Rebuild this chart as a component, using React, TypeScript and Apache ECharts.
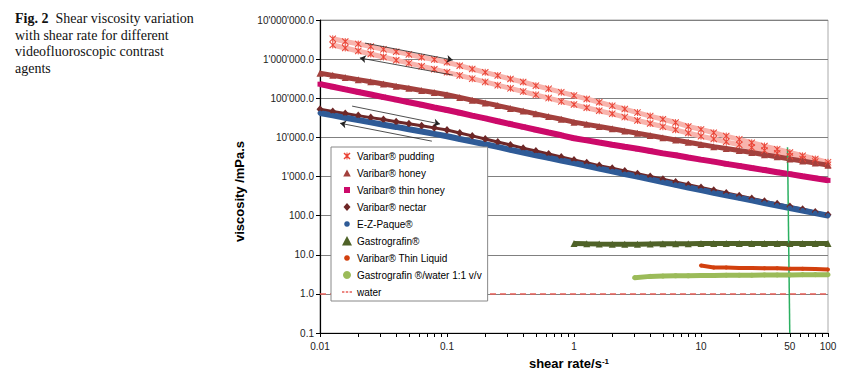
import React, { useEffect, useRef } from 'react';
import * as echarts from 'echarts';

// shear-rate sweep (1/s), 10 points per decade
const rateSweep = [0.01, 0.0126, 0.0158, 0.02, 0.0251, 0.0316, 0.0398, 0.0501, 0.0631, 0.0794, 0.1, 0.126, 0.158, 0.2, 0.251, 0.316, 0.398, 0.501, 0.631, 0.794, 1, 1.26, 1.58, 2, 2.51, 3.16, 3.98, 5.01, 6.31, 7.94, 10, 12.6, 15.8, 20, 25.1, 31.6, 39.8, 50.1, 63.1, 79.4, 100];
const puddingRate = [0.0126, 0.0158, 0.02, 0.0251, 0.0316, 0.0398, 0.0501, 0.0631, 0.0794, 0.1, 0.126, 0.158, 0.2, 0.251, 0.316, 0.398, 0.501, 0.631, 0.794, 1, 1.26, 1.58, 2, 2.51, 3.16, 3.98, 5.01, 6.31, 7.94, 10, 12.6, 15.8, 20, 25.1, 31.6, 39.8, 50.1, 63.1, 79.4, 100];

// viscosities (mPa.s)
const puddingUp = [3310000, 2820000, 2450000, 2090000, 1780000, 1550000, 1320000, 1120000, 980000, 830000, 680000, 560000, 460000, 380000, 310000, 260000, 210000, 174000, 143000, 117000, 96000, 79000, 64000, 53000, 43000, 35000, 29000, 24000, 19000, 16000, 13100, 10800, 8900, 7300, 6000, 5000, 4100, 3400, 2800, 2300];
const puddingDown = [2290000, 1920000, 1610000, 1350000, 1130000, 940000, 790000, 660000, 550000, 460000, 384000, 317000, 262000, 216000, 179000, 148000, 122000, 101000, 83000, 69000, 57000, 48000, 40000, 33000, 27000, 22600, 18800, 15600, 12900, 10700, 9100, 7700, 6500, 5500, 4600, 3900, 3300, 2800, 2400, 2000];
const honey = [437000, 385000, 339000, 299000, 263000, 232000, 204000, 180000, 158000, 140000, 123000, 105000, 89000, 76000, 65000, 55000, 47000, 40000, 34000, 29000, 24500, 21500, 18900, 16600, 14500, 12700, 11200, 9800, 8600, 7500, 6600, 5800, 5200, 4600, 4100, 3600, 3200, 2800, 2500, 2200, 1950];
const thinHoney = [229000, 197000, 169000, 145000, 125000, 107000, 92000, 79000, 68000, 58000, 50000, 42500, 36000, 30500, 25800, 21900, 18500, 15700, 13300, 11300, 9500, 8400, 7400, 6500, 5750, 5100, 4500, 3900, 3500, 3050, 2700, 2400, 2100, 1870, 1650, 1460, 1290, 1150, 1010, 900, 795];
const nectar = [52500, 46000, 41000, 36000, 32000, 28500, 25200, 22300, 19800, 17500, 15500, 13000, 10900, 9100, 7600, 6400, 5300, 4500, 3750, 3140, 2630, 2240, 1900, 1620, 1380, 1170, 1000, 851, 724, 617, 525, 447, 380, 324, 275, 234, 200, 170, 145, 123, 105];
const ezPaque = [41700, 36400, 31800, 27700, 24200, 21100, 18500, 16100, 14100, 12300, 10700, 9100, 7800, 6650, 5700, 4800, 4100, 3500, 3000, 2560, 2190, 1870, 1590, 1360, 1160, 989, 843, 719, 614, 524, 447, 385, 331, 285, 245, 211, 182, 157, 135, 116, 100];

const gastroRate = [1, 1.26, 1.58, 2, 2.51, 3.16, 3.98, 5.01, 6.31, 7.94, 10, 12.6, 15.8, 20, 25.1, 31.6, 39.8, 50.1, 63.1, 79.4, 100];
const gastrografin = [19.4, 19.0, 18.7, 18.5, 18.5, 18.6, 18.8, 19.0, 19.1, 19.2, 19.3, 19.3, 19.3, 19.4, 19.4, 19.4, 19.4, 19.4, 19.4, 19.4, 19.5];
const thinLiquidRate = [10, 12.6, 15.8, 20, 25.1, 31.6, 39.8, 50.1, 63.1, 79.4, 100];
const thinLiquid = [5.3, 4.7, 4.7, 4.6, 4.6, 4.5, 4.5, 4.4, 4.4, 4.3, 4.2];
const gastroWaterRate = [3.0, 3.98, 5.01, 6.31, 7.94, 10, 12.6, 15.8, 20, 25.1, 31.6, 39.8, 50.1, 63.1, 79.4, 100];
const gastroWater = [2.6, 2.8, 2.85, 2.9, 2.9, 2.95, 2.95, 3.0, 3.0, 3.0, 3.05, 3.05, 3.05, 3.1, 3.1, 3.1];
const waterRate = [0.01, 100];
const water = [1, 1];
const markerRate = [48, 50];
const markerVisc = [5600, 0.1];

// hysteresis arrows: [fromRate, fromVisc, toRate, toVisc]
const arrows = [
  [0.0226, 2570000, 0.111, 950000],
  [0.111, 390000, 0.0206, 1070000],
  [0.0179, 63000, 0.088, 22000],
  [0.076, 8000, 0.0144, 23000],
];

const xLabelValues = [0.01, 0.1, 1, 10, 50, 100];
const xTickValues = [0.01, 0.02, 0.03, 0.04, 0.05, 0.06, 0.07, 0.08, 0.09, 0.1, 0.2, 0.3, 0.4, 0.5, 0.6, 0.7, 0.8, 0.9, 1, 2, 3, 4, 5, 6, 7, 8, 9, 10, 20, 30, 40, 50, 60, 70, 80, 90, 100];

const seriesNames = [
  'Varibar® pudding',
  'Varibar® honey',
  'Varibar® thin honey',
  'Varibar® nectar',
  'E-Z-Paque®',
  'Gastrografin®',
  'Varibar® Thin Liquid',
  'Gastrografin ®/water 1:1 v/v',
  'water',
];

const CROSS = 'path://M0,1L1,0L5,4L9,0L10,1L6,5L10,9L9,10L5,6L1,10L0,9L4,5ZM4.4,0H5.6V10H4.4Z';
// legend icons: degenerate corner triangles fix the 10x10 frame so the visible shape keeps its size
const FRAME = 'M0,0L0.01,0L0,0.01ZM10,10L9.99,10L10,9.99Z';
const ICON_TRI = 'path://' + FRAME + 'M5,1.5L8.8,8.5H1.2Z';
const ICON_TRI_BIG = 'path://' + FRAME + 'M5,0L10,9.5H0Z';
const ICON_SQUARE = 'path://' + FRAME + 'M2,2H8V8H2Z';
const ICON_DIAMOND = 'path://' + FRAME + 'M5,1L8.5,5L5,9L1.5,5Z';
const ICON_DOT = 'path://' + FRAME + 'M5,2.2A2.8,2.8,0,1,1,4.99,2.2Z';
const ICON_DOT_BIG = 'path://' + FRAME + 'M5,1A4,4,0,1,1,4.99,1Z';
const ICON_CROSS = 'path://' + FRAME + 'M1.5,2.5L2.5,1.5L5,4L7.5,1.5L8.5,2.5L6,5L8.5,7.5L7.5,8.5L5,6L2.5,8.5L1.5,7.5L4,5ZM4.5,1.5H5.5V8.5H4.5Z';
const ICON_DASH = 'path://' + FRAME + 'M0,4.3H2.4V5.7H0ZM3.8,4.3H6.2V5.7H3.8ZM7.6,4.3H10V5.7H7.6Z';
const FONT = '"Liberation Sans", Arial, sans-serif';

const zip = (xs: number[], ys: number[]) => ys.map((v, i) => [xs[i], v]);

const fmtY = (v: number) => {
  if (v < 1) return v.toFixed(1);
  return Math.round(v).toString().replace(/\B(?=(\d{3})+(?!\d))/g, "'") + '.0';
};

function band(name: string, data: number[][], color: string, symbol: string, size: any, lineW: number, lineColor?: string) {
  return {
    name,
    type: 'line',
    data,
    symbol,
    symbolSize: size,
    showSymbol: true,
    itemStyle: { color },
    lineStyle: { color: lineColor || color, width: lineW },
    emphasis: { disabled: true },
  };
}

export default function App() {
  const ref = useRef<HTMLDivElement>(null);
  useEffect(() => {
    const chart = echarts.init(ref.current!, null, { renderer: 'svg' });
    const puddingData = zip(puddingRate, puddingUp).concat(zip(puddingRate, puddingDown).reverse());
    const option: any = {
      animation: false,
      textStyle: { fontFamily: FONT },
      grid: { left: 320, right: 28, top: 20, bottom: 43, show: true, borderColor: '#aaaaaa', borderWidth: 1, backgroundColor: 'transparent' },
      xAxis: {
        type: 'log',
        logBase: 10,
        min: 0.01,
        max: 100,
        name: 'shear rate/s{sup|-1}',
        nameLocation: 'middle',
        nameGap: 24,
        nameTextStyle: {
          fontSize: 13, fontWeight: 'bold', color: '#000', fontFamily: FONT, padding: [0, 10, 0, 0],
          rich: { sup: { fontSize: 8, fontWeight: 'bold', color: '#000', verticalAlign: 'top', fontFamily: FONT } },
        },
        axisLine: { lineStyle: { color: '#000', width: 1 } },
        axisTick: { show: true, length: 4, inside: false, customValues: xTickValues, lineStyle: { color: '#000' } },
        minorTick: { show: false },
        axisLabel: { customValues: xLabelValues, fontSize: 10, color: '#222', margin: 8, formatter: (v: number) => String(+v.toPrecision(6)) },
        splitLine: { show: false },
      },
      yAxis: {
        type: 'log',
        logBase: 10,
        min: 0.1,
        max: 10000000,
        splitNumber: 8,
        name: 'viscosity /mPa.s',
        nameLocation: 'middle',
        nameGap: 70,
        nameTextStyle: { fontSize: 13, fontWeight: 'bold', color: '#000', fontFamily: FONT, padding: [0, 30, 0, 0] },
        axisLine: { show: true, lineStyle: { color: '#000', width: 1.2 } },
        axisTick: { show: true, length: 4, inside: false, lineStyle: { color: '#000' } },
        axisLabel: { fontSize: 10, color: '#222', margin: 6, formatter: fmtY },
        splitLine: { show: true, lineStyle: { color: '#808080', width: 1 } },
      },
      legend: {
        orient: 'vertical',
        left: 331,
        top: 147,
        padding: [4, 6, 4, 11],
        itemWidth: 10,
        itemHeight: 10,
        itemGap: 7,
        backgroundColor: '#ffffff',
        borderColor: '#888888',
        borderWidth: 1,
        textStyle: { fontSize: 10, color: '#000', fontFamily: FONT },
        selectedMode: false,
        data: [
          { name: seriesNames[0], icon: ICON_CROSS },
          { name: seriesNames[1], icon: ICON_TRI },
          { name: seriesNames[2], icon: ICON_SQUARE },
          { name: seriesNames[3], icon: ICON_DIAMOND },
          { name: seriesNames[4], icon: ICON_DOT },
          { name: seriesNames[5], icon: ICON_TRI_BIG },
          { name: seriesNames[6], icon: ICON_DOT },
          { name: seriesNames[7], icon: ICON_DOT_BIG },
          { name: seriesNames[8], icon: ICON_DASH },
        ],
      },
      graphic: [
        {
          type: 'text',
          left: 15,
          top: 10,
          style: {
            text: '{b|Fig. 2}  Shear viscosity variation\nwith shear rate for different\nvideofluoroscopic contrast\nagents',
            font: '14px "Liberation Serif", "Times New Roman", serif',
            fill: '#111',
            lineHeight: 16.7,
            rich: {
              b: { fontWeight: 'bold', fontSize: 14, fontFamily: '"Liberation Serif", "Times New Roman", serif', lineHeight: 16.7, fill: '#111' },
            },
          },
        },
      ],
      series: [
        band(seriesNames[0], puddingData, '#ea4436', CROSS, 7, 5, '#f8b4ad'),
        band(seriesNames[1], zip(rateSweep, honey), '#a3403d', 'triangle', 7, 5),
        band(seriesNames[2], zip(rateSweep, thinHoney), '#cc0a6a', 'rect', 5, 6),
        band(seriesNames[3], zip(rateSweep, nectar), '#6e2727', 'diamond', [7, 8], 3),
        band(seriesNames[4], zip(rateSweep, ezPaque), '#2f5b97', 'circle', 5, 6),
        band(seriesNames[5], zip(gastroRate, gastrografin), '#4f6228', 'triangle', 7, 5),
        band(seriesNames[6], zip(thinLiquidRate, thinLiquid), '#d2400e', 'circle', 4, 4),
        band(seriesNames[7], zip(gastroWaterRate, gastroWater), '#9bbb59', 'circle', 5, 5),
        {
          name: seriesNames[8],
          type: 'line',
          data: zip(waterRate, water),
          symbol: 'none',
          itemStyle: { color: '#e8605a' },
          lineStyle: { color: '#e8605a', width: 1.5, type: [6, 4] },
          emphasis: { disabled: true },
        },
        {
          name: 'marker',
          type: 'line',
          data: zip(markerRate, markerVisc),
          symbol: 'none',
          lineStyle: { color: '#2bb061', width: 1.5 },
          emphasis: { disabled: true },
          markLine: {
            silent: true,
            symbol: ['none', 'arrow'],
            symbolSize: 6,
            label: { show: false },
            lineStyle: { color: '#222', width: 0.8, type: 'solid' },
            emphasis: { disabled: true },
            data: arrows.map((a) => [{ coord: [a[0], a[1]] }, { coord: [a[2], a[3]] }]),
          },
        },
      ],
    };
    chart.setOption(option);
    return () => chart.dispose();
  }, []);
  return <div ref={ref} style={{ position: 'fixed', left: 0, top: 0, width: 856, height: 376, background: '#fff' }} />;
}
